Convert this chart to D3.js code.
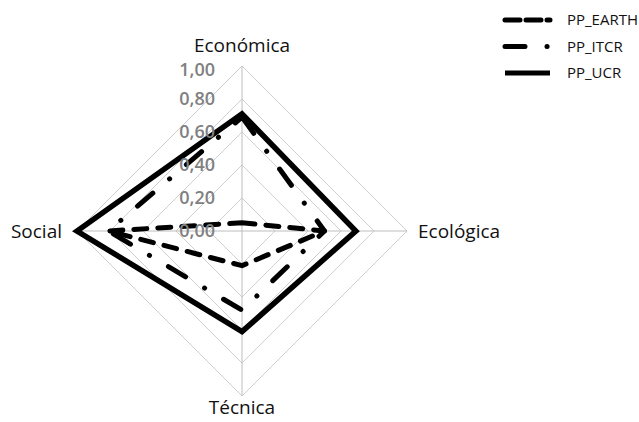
<!DOCTYPE html>
<html>
<head>
<meta charset="utf-8">
<script src="https://cdn.jsdelivr.net/npm/d3@7"></script>
<style>
  body { margin: 0; background: #fff; }
  text { font-family: 'Open Sans', sans-serif; }
</style>
</head>
<body>
<script>
// axes of the radar, clockwise from the top
var axes = ['Económica', 'Ecológica', 'Técnica', 'Social'];

// series values, same order as axes
var seriesNames = ['PP_EARTH', 'PP_ITCR', 'PP_UCR'];
var earth = [0.05, 0.50, 0.21, 0.81];
var itcr = [0.69, 0.50, 0.48, 0.81];
var ucr = [0.71, 0.69, 0.61, 1.00];

// grid levels / tick labels
var ticks = [0, 0.2, 0.4, 0.6, 0.8, 1.0];

var width = 639,
    height = 422,
    cx = 242,
    cy = 231,
    radius = 165;

var dashes = {
    'PP_EARTH': '13,11',
    'PP_ITCR': '20,22,0.1,22',
    'PP_UCR': null
};
var series = [earth, itcr, ucr];

var locale = d3.formatLocale({decimal: ',', thousands: '.', grouping: [3], currency: ['', '']});
var fmt = locale.format('.2f');

var svg = d3.select('body')
    .append('svg')
    .attr('width', width)
    .attr('height', height);

var r = d3.scaleLinear().domain([0, 1]).range([0, radius]);
var angle = d3.scalePoint().domain(axes).range([0, 2 * Math.PI * 3 / 4]);

var radar = d3.lineRadial()
    .angle(function (d, i) { return angle(axes[i]); })
    .radius(function (d) { return r(d); })
    .curve(d3.curveLinearClosed);

var g = svg.append('g').attr('transform', 'translate(' + cx + ',' + cy + ')');

// grid rings
g.selectAll('.ring').data(ticks.slice(1)).enter().append('path')
    .attr('class', 'ring')
    .attr('d', function (t) { return radar(axes.map(function () { return t; })); })
    .attr('fill', 'none')
    .attr('stroke', '#cfcfcf')
    .attr('stroke-width', 1);

// spokes
g.selectAll('.spoke').data(axes).enter().append('line')
    .attr('x1', 0)
    .attr('y1', 0)
    .attr('x2', function (d) { return r(1) * Math.sin(angle(d)); })
    .attr('y2', function (d) { return -r(1) * Math.cos(angle(d)); })
    .attr('stroke', '#bdbdbd')
    .attr('stroke-width', 1);

// series
g.selectAll('.series').data(series).enter().append('path')
    .attr('class', 'series')
    .attr('d', function (d) { return radar(d); })
    .attr('fill', 'none')
    .attr('stroke', '#000')
    .attr('stroke-width', function (d, i) { return i < 2 ? 5 : 5.5; })
    .attr('stroke-linecap', function (d, i) { return i < 2 ? 'round' : 'butt'; })
    .attr('stroke-linejoin', function (d, i) { return i < 2 ? 'round' : 'miter'; })
    .attr('stroke-dasharray', function (d, i) { return dashes[seriesNames[i]]; });

// tick labels
g.selectAll('.tick').data(ticks).enter().append('text')
    .attr('x', -27)
    .attr('y', function (t) { return -r(t) + (t === 1 ? 4 : 0); })
    .attr('dy', '0.35em')
    .attr('text-anchor', 'end')
    .attr('fill', '#808080')
    .attr('font-weight', 600)
    .attr('font-size', '18px')
    .text(function (t) { return fmt(t); });

// axis titles
var titlePos = [
    {x: 0, y: -186, anchor: 'middle'},
    {x: 176, y: 0, anchor: 'start'},
    {x: 0, y: 176, anchor: 'middle'},
    {x: -180, y: 0, anchor: 'end'}
];
g.selectAll('.title').data(axes).enter().append('text')
    .attr('x', function (d, i) { return titlePos[i].x; })
    .attr('y', function (d, i) { return titlePos[i].y; })
    .attr('dy', '0.35em')
    .attr('text-anchor', function (d, i) { return titlePos[i].anchor; })
    .attr('fill', '#111')
    .attr('font-size', '19px')
    .text(function (d) { return d; });

// legend
var legend = svg.append('g').attr('transform', 'translate(503,20)');
var item = legend.selectAll('.item').data(seriesNames).enter().append('g')
    .attr('transform', function (d, i) { return 'translate(0,' + i * 26.5 + ')'; });

item.append('line')
    .attr('x1', 2)
    .attr('x2', 47)
    .attr('y1', 0)
    .attr('y2', 0)
    .attr('stroke', '#000')
    .attr('stroke-width', 5)
    .attr('stroke-linecap', function (d, i) { return i < 2 ? 'round' : 'butt'; })
    .attr('stroke-dasharray', function (d, i) { return i === 0 ? '15,6' : dashes[d]; });

item.append('text')
    .attr('x', 64)
    .attr('y', 0)
    .attr('dy', '0.35em')
    .attr('fill', '#111')
    .attr('font-size', '15px')
    .text(function (d) { return d; });
</script>
</body>
</html>
